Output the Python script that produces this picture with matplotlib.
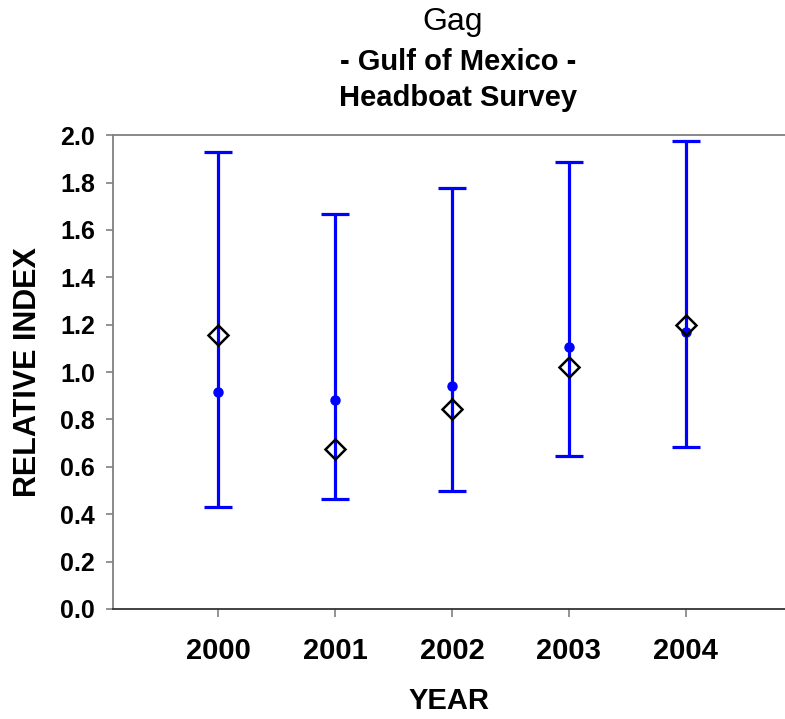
import matplotlib.pyplot as plt

plt.rcParams["font.family"] = ["Liberation Sans", "DejaVu Sans"]

# index values per survey year
years = [2000, 2001, 2002, 2003, 2004]
standardized = [0.915, 0.882, 0.940, 1.104, 1.168]
lower_ci = [0.430, 0.466, 0.497, 0.645, 0.682]
upper_ci = [1.930, 1.668, 1.775, 1.885, 1.976]
nominal = [1.157, 0.675, 0.844, 1.022, 1.198]
year_labels = ["2000", "2001", "2002", "2003", "2004"]

fig = plt.figure(figsize=(7.85, 7.19), dpi=100)
ax = fig.add_axes([0.144, 0.153, 0.856, 0.659])

err_lo = [s - lo for s, lo in zip(standardized, lower_ci)]
err_hi = [hi - s for s, hi in zip(standardized, upper_ci)]

ax.errorbar(years, standardized, yerr=[err_lo, err_hi], fmt="o", color="#0000ff",
            ecolor="#0000ff", elinewidth=2.3, capsize=10, capthick=2.3,
            markersize=6.5, zorder=3)
ax.plot(years, nominal, linestyle="none", marker="D", markersize=10.5,
        markerfacecolor="none", markeredgecolor="black", markeredgewidth=1.8,
        zorder=4)

ax.set_xlim(1999.1, 2004.85)
ax.set_ylim(0, 2.0)
ax.set_xticks(years)
ax.set_xticklabels(year_labels)
ax.set_yticks([0.0, 0.2, 0.4, 0.6, 0.8, 1.0, 1.2, 1.4, 1.6, 1.8, 2.0])
ax.set_yticklabels([f"{v:.1f}" for v in ax.get_yticks()])

for lab in ax.get_xticklabels():
    lab.set_fontsize(21)
    lab.set_fontweight("bold")
for lab in ax.get_yticklabels():
    lab.set_fontsize(18)
    lab.set_fontweight("bold")

ax.tick_params(axis="x", direction="out", length=6, width=1.2, color="#808080", pad=14)
ax.tick_params(axis="y", direction="out", length=5, width=1.2, color="#808080", pad=8)

for side in ["left", "top"]:
    ax.spines[side].set_color("#808080")
    ax.spines[side].set_linewidth(1.3)
ax.spines["bottom"].set_color("#333333")
ax.spines["bottom"].set_linewidth(1.3)
ax.spines["right"].set_visible(False)

ax.set_ylabel("RELATIVE INDEX", fontsize=22, fontweight="bold", labelpad=12)
ax.set_xlabel("YEAR", fontsize=21, fontweight="bold", labelpad=16)

fig.text(0.576, 0.970, "Gag", ha="center", va="center", fontsize=23)
fig.text(0.583, 0.914, "- Gulf of Mexico -", ha="center", va="center", fontsize=21,
         fontweight="bold")
fig.text(0.583, 0.864, "Headboat Survey", ha="center", va="center", fontsize=21,
         fontweight="bold")

fig.savefig("out.png", dpi=100)
